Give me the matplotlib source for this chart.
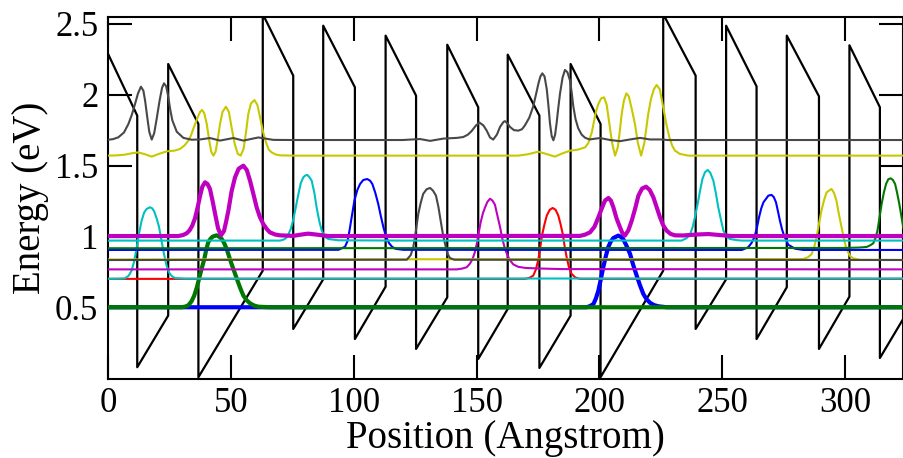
import matplotlib
matplotlib.use('Agg')
import matplotlib.pyplot as plt

# ---------------- data (Angstrom, eV) ----------------
band_x = [0, 11.9, 11.9, 24.5, 24.5, 36.8, 36.8, 63.0, 63.0, 75.4, 75.4, 87.6, 87.6, 100.5,
          100.5, 113.0, 113.0, 125.4, 125.4, 138.1, 138.1, 150.7, 150.7, 162.7, 162.7, 175.6,
          175.6, 188.3, 188.3, 200.5, 200.5, 226.0, 226.0, 239.2, 239.2, 251.6, 251.6, 264.0,
          264.0, 276.3, 276.3, 289.4, 289.4, 301.8, 301.8, 314.2, 314.2, 326.1]
band_e = [2.29, 1.854, 0.08, 0.444, 2.218, 1.795, 0.01, 0.761, 2.57, 2.136, 0.35, 0.70,
          2.488, 2.054, 0.279, 0.648, 2.418, 1.995, 0.209, 0.573, 2.354, 1.913, 0.138, 0.491,
          2.284, 1.854, 0.075, 0.444, 2.218, 1.795, 0.01, 0.761, 2.57, 2.136, 0.35, 0.70,
          2.488, 2.06, 0.279, 0.644, 2.418, 1.99, 0.209, 0.578, 2.35, 1.913, 0.145, 0.491]

gray_hi_x = [0, 2, 4.2, 6.5, 8.3, 9.7, 11.0, 12.2, 13.4, 14.4, 15.1, 16.0, 16.8, 17.8, 18.8, 19.8,
             21.0, 22.0, 22.8, 23.7, 24.5, 25.3, 26.2, 28.0, 30.7, 34.1, 37.5, 41.5, 45.6, 51.0,
             55.1, 61.2, 67.3, 75, 120, 127.0, 131.1, 136.5, 142, 144.6, 146.5, 148.0, 149.8,
             151.2, 152.8, 154.1, 155.5, 156.8, 158.3, 159.6, 161.0, 161.6, 162.6, 163.6, 165.2,
             167.0, 168.5, 169.7, 171.5, 173.1, 174.3, 175.2, 176.0, 176.8, 177.7, 178.6, 179.3,
             179.9, 180.6, 181.3, 182.0, 182.6, 183.3, 184.0, 185.0, 186.0, 187.0, 188.1, 188.8,
             189.4, 190.3, 191.4, 192.8, 194.2, 196, 200.3, 204.4, 208.4, 212.5, 216.6, 220.6,
             224.7, 228, 330]
gray_hi_e = [1.684, 1.688, 1.701, 1.735, 1.795, 1.86, 1.936, 2.01, 2.058, 2.03, 1.96, 1.84, 1.74,
             1.685, 1.73, 1.83, 1.96, 2.05, 2.082, 2.06, 1.99, 1.90, 1.82, 1.74, 1.697, 1.684,
             1.686, 1.696, 1.678, 1.696, 1.678, 1.700, 1.683, 1.682, 1.682, 1.689, 1.676, 1.692,
             1.697, 1.703, 1.72, 1.745, 1.785, 1.805, 1.785, 1.75, 1.70, 1.685, 1.72, 1.775, 1.81,
             1.815, 1.80, 1.775, 1.752, 1.748, 1.758, 1.785, 1.84, 1.92, 2.01, 2.08, 2.13, 2.152,
             2.13, 2.04, 1.92, 1.80, 1.71, 1.680, 1.72, 1.80, 1.91, 2.01, 2.12, 2.176, 2.16, 2.10,
             2.01, 1.92, 1.83, 1.765, 1.72, 1.698, 1.686, 1.696, 1.682, 1.674, 1.686, 1.697,
             1.686, 1.686, 1.682, 1.682]

yellow_hi_x = [0, 4, 6.9, 9.5, 12.3, 15, 17.8, 20.8, 23.9, 27, 29.3, 31.2, 32.7, 33.8, 34.7, 35.8,
               36.8, 37.6, 38.3, 39.2, 40.2, 41.2, 42.0, 42.9, 43.8, 44.7, 45.6, 46.6, 48.0, 49.2,
               50.3, 51.5, 52.8, 54.0, 55.2, 56.2, 57.1, 58.2, 59.6, 60.8, 61.9, 63.1, 64.3, 65.4,
               66.6, 68.3, 70.0, 75.4, 167.0, 171, 175.2, 178.5, 181.9, 185, 188.1, 191, 194.2,
               195.5, 197.0, 197.6, 198.6, 199.6, 200.7, 201.9, 203.0, 204.1, 205.2, 206.4, 207.5,
               208.3, 209.1, 210.0, 211.0, 212.0, 213.2, 214.5, 215.7, 217.0, 218.3, 219.9, 221.0,
               222.2, 223.3, 224.6, 226.0, 227.2, 228.5, 229.7, 230.8, 232.8, 236.2, 330]
yellow_hi_e = [1.572, 1.574, 1.579, 1.588, 1.595, 1.582, 1.565, 1.585, 1.602, 1.607, 1.619, 1.645,
               1.677, 1.715, 1.760, 1.81, 1.854, 1.883, 1.894, 1.87, 1.795, 1.68, 1.60, 1.572,
               1.60, 1.69, 1.795, 1.88, 1.917, 1.88, 1.772, 1.66, 1.585, 1.572, 1.62, 1.74, 1.866,
               1.94, 1.964, 1.93, 1.842, 1.74, 1.666, 1.615, 1.595, 1.580, 1.574, 1.572, 1.572,
               1.582, 1.600, 1.583, 1.565, 1.588, 1.607, 1.613, 1.63, 1.66, 1.74, 1.795, 1.88,
               1.936, 1.975, 1.983, 1.93, 1.795, 1.66, 1.572, 1.63, 1.74, 1.866, 1.96, 2.011, 1.99,
               1.90, 1.795, 1.66, 1.572, 1.66, 1.866, 1.97, 2.04, 2.070, 2.04, 1.913, 1.80, 1.701,
               1.64, 1.607, 1.584, 1.572, 1.572]

magenta_thick_x = [0, 28.6, 30.5, 32.0, 33.2, 34.3, 35.4, 36.5, 37.5, 38.4, 39.5, 40.5, 41.5, 42.6,
                   43.6, 44.8, 46.0, 47.2, 48.0, 49.0, 50.3, 51.7, 53.2, 55.1, 56.5, 57.8, 59.2,
                   60.5, 61.8, 63.2, 64.6, 65.9, 68.0, 70.0, 75.4, 78.5, 81.5, 85, 89.7, 192.1,
                   194.2, 196.2, 198, 199.6, 201.0, 202.3, 203.7, 204.7, 205.7, 207.0, 208.4,
                   209.4, 210.4, 211.8, 213.2, 214.6, 215.9, 217.4, 219.0, 220.5, 222.0, 223.3,
                   224.7, 226.0, 227.4, 229, 230.8, 234, 240, 244.4, 249, 254, 330]
magenta_thick_e = [1.005, 1.005, 1.012, 1.024, 1.045, 1.078, 1.13, 1.208, 1.29, 1.353, 1.384,
                   1.372, 1.337, 1.25, 1.161, 1.06, 1.010, 1.04, 1.10, 1.184, 1.32, 1.419, 1.48,
                   1.501, 1.47, 1.396, 1.30, 1.208, 1.14, 1.090, 1.055, 1.031, 1.016, 1.010, 1.006,
                   1.015, 1.022, 1.015, 1.005, 1.006, 1.015, 1.031, 1.07, 1.137, 1.20, 1.255,
                   1.273, 1.255, 1.208, 1.13, 1.067, 1.025, 1.008, 1.045, 1.114, 1.20, 1.290, 1.34,
                   1.353, 1.33, 1.278, 1.21, 1.137, 1.08, 1.043, 1.02, 1.010, 1.009, 1.016, 1.019,
                   1.012, 1.005, 1.005]

cyan_x = [0, 70.0, 71.5, 72.5, 73.5, 74.4, 75.4, 76.3, 77.5, 78.5, 79.5, 80.3, 81.1, 82.0, 82.9,
          84.0, 84.9, 86.0, 87.0, 88.2, 89.7, 93.8, 120, 233.5, 235.5, 236.9, 238.0, 238.9,
          240.0, 241.0, 242.0, 243.0, 244.1, 245.2, 246.4, 247.4, 248.4, 249.5, 250.5, 251.8,
          253.2, 256, 258.0, 330]
cyan_e = [0.973, 0.973, 0.980, 0.991, 1.02, 1.055, 1.12, 1.196, 1.30, 1.38, 1.419, 1.432, 1.436,
          1.42, 1.396, 1.31, 1.208, 1.11, 1.043, 1.00, 0.984, 0.975, 0.973, 0.973, 0.99, 1.015,
          1.07, 1.137, 1.23, 1.325, 1.41, 1.455, 1.471, 1.45, 1.396, 1.31, 1.208, 1.12, 1.043,
          1.00, 0.984, 0.976, 0.973, 0.973]

cyan_lo_x = [0, 5, 6.9, 8.4, 9.6, 10.7, 11.7, 12.7, 13.7, 14.7, 15.7, 17.1, 18.0, 18.8, 19.8,
             20.8, 21.8, 22.8, 23.8, 24.8, 26, 27.3, 31.3, 330]
cyan_lo_e = [0.704, 0.705, 0.707, 0.725, 0.761, 0.83, 0.926, 1.03, 1.114, 1.17, 1.196, 1.208,
             1.20, 1.179, 1.13, 1.067, 0.97, 0.879, 0.80, 0.749, 0.722, 0.709, 0.705, 0.706]

red_x = [0, 169.7, 171.5, 173.1, 174.2, 175.2, 176.0, 176.8, 177.7, 178.6, 179.8, 181.0, 182.2,
         183.3, 184.2, 185.1, 185.9, 186.7, 187.7, 188.7, 190.2, 192.1, 330]
red_e = [0.703, 0.703, 0.710, 0.726, 0.77, 0.843, 0.93, 1.020, 1.09, 1.149, 1.19, 1.203, 1.19,
         1.149, 1.09, 1.020, 0.93, 0.855, 0.78, 0.738, 0.713, 0.703, 0.703]

green_thin_x = [0, 300, 306, 308.8, 310.3, 311.5, 312.4, 313.2, 314.0, 314.9, 315.8, 316.7,
                317.6, 318.6, 319.5, 320.4, 321.2, 322.1, 322.9, 323.7, 324.6, 325.5, 327, 330]
green_thin_e = [0.919, 0.921, 0.924, 0.928, 0.94, 0.954, 0.99, 1.043, 1.13, 1.231, 1.31, 1.372,
                1.405, 1.412, 1.40, 1.372, 1.31, 1.231, 1.15, 1.067, 1.01, 0.96, 0.93, 0.92]

blue_thin_x = [0, 93.8, 96.5, 97.5, 98.3, 99.3, 100.3, 101.5, 102.6, 103.9, 105.5, 106.7, 107.6,
               108.8, 110.0, 111.0, 112.1, 113.2, 114.4, 115.6, 117.0, 120.2, 258.0, 260.6,
               261.9, 263.1, 264.1, 265.0, 265.9, 266.8, 268.8, 270.1, 271.0, 271.9, 272.7,
               273.5, 274.4, 275.2, 276.9, 279.6, 283.0, 330]
blue_thin_e = [0.907, 0.908, 0.93, 0.97, 1.043, 1.15, 1.255, 1.33, 1.372, 1.40, 1.407, 1.395,
               1.372, 1.31, 1.231, 1.15, 1.067, 1.00, 0.955, 0.93, 0.915, 0.908, 0.907, 0.926,
               0.955, 0.996, 1.06, 1.137, 1.20, 1.243, 1.290, 1.295, 1.28, 1.243, 1.18, 1.114,
               1.05, 1.008, 0.944, 0.916, 0.907, 0.907]

gray_mid_x = [0, 121.6, 123.2, 124.3, 125.3, 126.3, 127.3, 128.3, 129.7, 131.1, 132.3, 133.5,
              134.5, 135.4, 136.3, 137.2, 138.2, 139.2, 141, 330]
gray_mid_e = [0.836, 0.838, 0.87, 0.93, 1.04, 1.161, 1.24, 1.302, 1.335, 1.344, 1.325, 1.290,
              1.21, 1.114, 1.02, 0.949, 0.88, 0.85, 0.838, 0.836]

yellow_mid_x = [0, 283.0, 285, 286.4, 287.5, 288.4, 289.4, 290.4, 291.5, 292.5, 294.5, 295.5,
                296.5, 297.5, 298.6, 299.6, 300.6, 302, 303.3, 306.0, 330]
yellow_mid_e = [0.840, 0.843, 0.856, 0.878, 0.93, 0.996, 1.09, 1.184, 1.26, 1.313, 1.337, 1.31,
                1.255, 1.16, 1.067, 0.98, 0.914, 0.865, 0.848, 0.838, 0.836]

magenta_thin_x = [0, 141.9, 144, 146.0, 147.3, 148.4, 149.3, 150.1, 150.9, 151.7, 152.6, 153.5,
                  154.4, 155.5, 156.5, 157.5, 158.5, 159.6, 160.6, 161.6, 162.6, 163.6, 165.0,
                  167.0, 170.0, 176.0, 185.0, 330]
magenta_thin_e = [0.770, 0.770, 0.775, 0.785, 0.81, 0.843, 0.89, 0.949, 1.03, 1.102, 1.165,
                  1.208, 1.245, 1.268, 1.255, 1.226, 1.15, 1.067, 0.98, 0.914, 0.87, 0.835, 0.805,
                  0.788, 0.780, 0.776, 0.772, 0.770]

green_thick_x = [0, 30.0, 31.5, 32.7, 34.0, 35.1, 36.2, 37.2, 38.2, 39.2, 40.0, 40.8, 41.7, 42.6,
                 44.2, 45.3, 46.3, 47.3, 48.3, 49.3, 50.3, 51.5, 52.7, 53.9, 55.1, 56.4, 57.8,
                 59.5, 61.2, 65.9, 330]
green_thick_e = [0.503, 0.503, 0.508, 0.517, 0.545, 0.585, 0.645, 0.714, 0.78, 0.843, 0.91,
                 0.961, 0.985, 1.001, 1.010, 1.00, 0.984, 0.955, 0.914, 0.86, 0.808, 0.75, 0.691,
                 0.635, 0.585, 0.553, 0.531, 0.515, 0.507, 0.503, 0.503]

blue_thick_x = [0, 194.8, 196.3, 197.6, 198.6, 199.6, 200.6, 201.6, 202.6, 203.6, 204.6, 205.7,
                207.7, 208.7, 209.7, 211.1, 212.5, 213.8, 215.2, 216.5, 217.9, 219.2, 220.6,
                222.3, 224.0, 227.4, 330]
blue_thick_e = [0.503, 0.503, 0.512, 0.526, 0.565, 0.620, 0.70, 0.785, 0.86, 0.926, 0.965, 0.991,
                1.008, 1.00, 0.984, 0.935, 0.879, 0.80, 0.726, 0.66, 0.597, 0.56, 0.535, 0.518,
                0.510, 0.503, 0.503]

x_ticks = [0, 50, 100, 150, 200, 250, 300]
x_ticklabels = ['0', '50', '100', '150', '200', '250', '300']
y_ticks = [0.5, 1.0, 1.5, 2.0, 2.5]
y_ticklabels = ['0.5', '1', '1.5', '2', '2.5']

# ---------------- drawing ----------------
plt.rcParams['font.family'] = ['Liberation Serif', 'DejaVu Serif']

W, H = 904, 458
fig = plt.figure(figsize=(W / 100, H / 100), dpi=100)
x0_px, x1_px = 108, 903.5
y_top_px, y_bot_px = 16.9, 378.6
ax = fig.add_axes([x0_px / W, 1 - y_bot_px / H, (x1_px - x0_px) / W, (y_bot_px - y_top_px) / H])

thin = 1.5
thick = 3.0
kw = dict(solid_joinstyle='round', solid_capstyle='round')

ax.plot(band_x, band_e, color='black', lw=1.6, zorder=2, **kw)

ax.plot(blue_thick_x, blue_thick_e, color='#0000ff', lw=thick, zorder=3, **kw)
ax.plot(green_thick_x, green_thick_e, color='#007800', lw=thick, zorder=3, **kw)
ax.plot(red_x, red_e, color='#ff0000', lw=thin, zorder=3, **kw)
ax.plot(cyan_lo_x, cyan_lo_e, color='#00c0c0', lw=thin, zorder=3, **kw)
ax.plot(magenta_thin_x, magenta_thin_e, color='#c000c0', lw=thin, zorder=3, **kw)
ax.plot(yellow_mid_x, yellow_mid_e, color='#c8c800', lw=thin, zorder=3, **kw)
ax.plot(gray_mid_x, gray_mid_e, color='#484848', lw=thin, zorder=3, **kw)
ax.plot(blue_thin_x, blue_thin_e, color='#0000ff', lw=thin, zorder=3, **kw)
ax.plot(green_thin_x, green_thin_e, color='#007800', lw=thin, zorder=3, **kw)
ax.plot(cyan_x, cyan_e, color='#00c0c0', lw=thin, zorder=3, **kw)
ax.plot(magenta_thick_x, magenta_thick_e, color='#c000c0', lw=thick, zorder=3, **kw)
ax.plot(yellow_hi_x, yellow_hi_e, color='#c8c800', lw=thin, zorder=3, **kw)
ax.plot(gray_hi_x, gray_hi_e, color='#484848', lw=thin, zorder=3, **kw)

ax.set_xlim(0, (x1_px - x0_px) / 2.4567)
ax.set_ylim(0, 2.55)
ax.set_xticks(x_ticks, x_ticklabels)
ax.set_yticks(y_ticks, y_ticklabels)
ax.minorticks_off()
ax.tick_params(direction='in', length=17, width=1.5, top=True, right=True,
               labelsize=25, colors='black')
ax.tick_params(axis='x', pad=6)
ax.tick_params(axis='y', pad=7)
for s in ax.spines.values():
    s.set_linewidth(1.5)

ax.set_xlabel('Position (Angstrom)', fontsize=28, labelpad=0)
ax.set_ylabel('Energy (eV)', fontsize=28, labelpad=4)

fig.savefig('out.png', dpi=100)
